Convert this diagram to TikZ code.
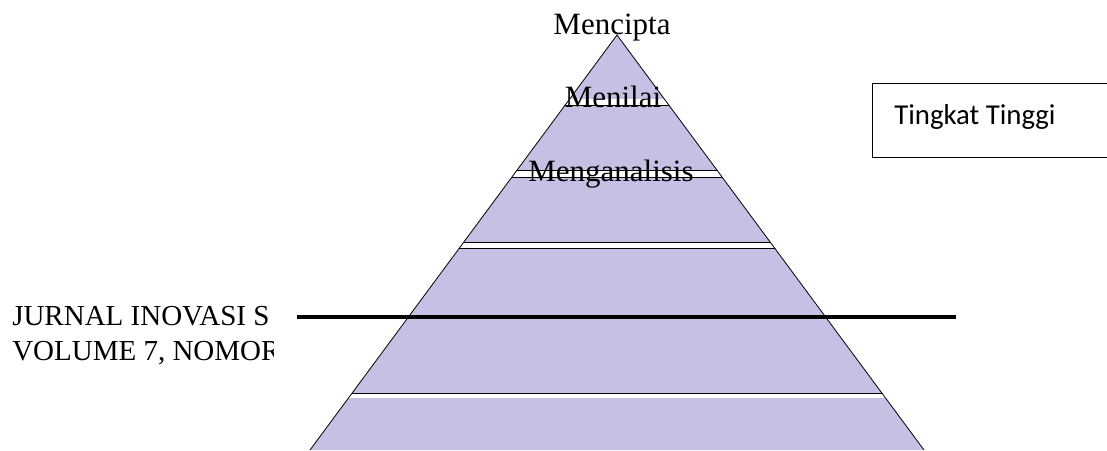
\documentclass[tikz,border=0pt]{standalone}
\usepackage{fontspec}
\setmainfont{Liberation Serif}
\newfontfamily\calibri{Carlito}
\definecolor{lavender}{RGB}{199,191,228}
\tikzstyle{tier} = [fill=lavender]
\tikzstyle{edge} = [draw=black, line width=0.6pt]
\tikzstyle{tiername} = [inner sep=0pt, anchor=base, font=\fontsize{23.25}{28}\selectfont]
\tikzstyle{journal} = [inner sep=0pt, anchor=base west, font=\fontsize{21.75}{26}\selectfont]
\tikzstyle{levelbox} = [draw, line width=0.8pt, anchor=north west, minimum width=182pt, minimum height=55.5pt]

\begin{document}
\begin{tikzpicture}[x=0.75pt, y=-0.75pt]
\useasboundingbox (0,0) rectangle (1107,450);
% pyramid
\coordinate (apex) at (617,35);
\coordinate (baseL) at (310,450);
\coordinate (baseR) at (924,450);
\path [tier] (apex) -- (baseR) -- (baseL) -- cycle;
% white gaps between the tiers
\begin{scope}
\clip (apex) -- (baseR) -- (baseL) -- cycle;
\foreach \top/\bot in {99/105, 170/177, 242/248, 393/398}
  \fill [white] (300,\top) rectangle (940,\bot);
\foreach \y in {105, 170, 177, 242, 248, 393}
  \draw [edge] (300,\y) -- (940,\y);
\end{scope}
\draw [edge] (baseL) -- (apex) -- (baseR);
% tier names
\node [tiername] (cipta) at (612,34) {Mencipta};
\node [tiername] (nilai) at (613,107) {Menilai};
\node [tiername] (analisis) at (611,181) {Menganalisis};
% box on the right
\node [levelbox] (tinggi) at (872,83) {};
\node [anchor=base west, inner sep=0pt, font=\calibri\fontsize{21.6}{26}\selectfont]
  (tinggitext) at ([shift={(22,41)}]tinggi.north west) {Tingkat Tinggi};
% journal header, cut off
\begin{scope}
\clip (0,280) rectangle (273,380);
\node [journal] (jurnal) at (12,325) {JURNAL INOVASI S};
\node [journal] (volume) at (12,360) {VOLUME 7, NOMOR};
\end{scope}
\coordinate (ruleL) at (297,316.5);
\coordinate (ruleR) at (956,316.5);
\draw [line width=3pt] (ruleL) -- (ruleR);
\end{tikzpicture}
\end{document}
